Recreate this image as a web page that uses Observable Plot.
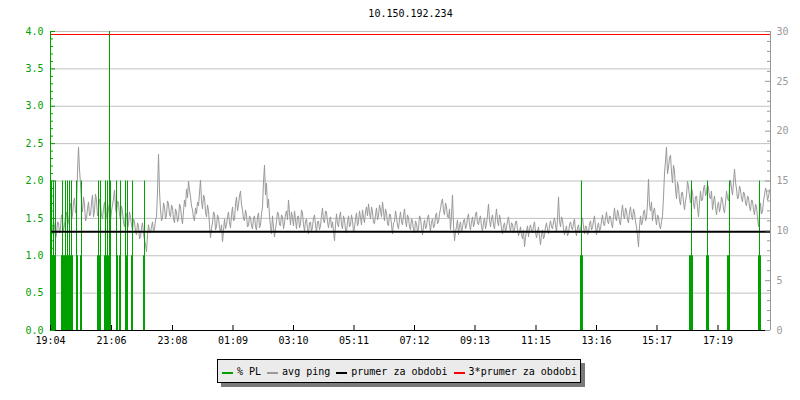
<!DOCTYPE html>
<html>
<head>
<meta charset="utf-8">
<script src="https://cdn.jsdelivr.net/npm/d3@7"></script>
<script src="https://cdn.jsdelivr.net/npm/@observablehq/plot@0.6"></script>
<style>
  body { margin: 0; background: #fff; font-family: "DejaVu Sans Mono", monospace; }
  #chart svg { display: block; }
  #legend {
    position: absolute; left: 217px; top: 359px; width: 364px; height: 24px;
    box-sizing: border-box; border: 1px solid #000; background: #ebebeb;
    box-shadow: 4px 4px 0 #7a7a7a; display: flex; align-items: center;
    font-size: 10px; padding: 0 0 0 4px; white-space: nowrap; color: #000;
  }
  .item { display: flex; align-items: center; margin-right: 6px; }
  .sw { width: 11px; height: 2px; margin-right: 4px; margin-top: 3px; }
</style>
</head>
<body>
<div id="chart"></div>
<div id="legend"></div>
<script>
// ---------------- data ----------------
const chartTitle = "10.150.192.234";
const spanMinutes = 1440;          // 24 h window starting 19:04
const pingStepMin = 2;             // one ping sample every 2 minutes

// avg ping (ms), right axis
const pingMs = [
  11.2, 10.4, 9.9, 11.0, 10.5, 9.2, 9.7, 10.9, 10.8, 9.8, 10.3, 11.6, 11.1, 10.0, 10.6, 11.4, 11.9, 10.5, 10.9, 12.0,
  12.8, 11.1, 11.6, 12.9, 13.3, 11.8, 12.2, 15.9, 18.4, 16.1, 14.8, 12.7, 11.9, 13.4, 12.6, 11.0, 11.3, 12.2, 12.9, 11.5,
  11.6, 12.8, 13.6, 11.4, 12.0, 13.7, 13.1, 11.5, 11.8, 13.2, 12.7, 11.6, 11.2, 12.2, 12.9, 11.0, 11.5, 12.8, 12.3, 11.3,
  11.0, 12.0, 12.6, 13.2, 14.1, 12.3, 11.7, 13.0, 12.8, 11.6, 11.1, 12.5, 11.9, 10.9, 10.4, 11.6, 11.8, 10.2, 10.7, 11.9,
  11.3, 10.6, 10.1, 11.2, 10.9, 9.9, 9.6, 10.8, 10.5, 9.2, 9.4, 10.3, 10.8, 9.7, 9.1, 8.6, 7.9, 9.6, 10.6, 9.9,
  9.8, 10.4, 10.9, 9.9, 10.2, 11.1, 11.4, 13.9, 17.7, 14.0, 12.1, 11.0, 11.3, 12.8, 12.4, 11.2, 11.6, 13.0, 12.7, 11.6,
  11.4, 12.6, 12.3, 11.2, 10.8, 12.2, 11.9, 10.9, 11.2, 12.7, 12.4, 11.3, 10.7, 12.0, 13.1, 12.4, 14.2, 13.3, 15.0, 14.1,
  13.4, 12.5, 12.1, 11.3, 11.0, 12.3, 11.7, 12.9, 12.5, 13.8, 15.1, 13.0, 12.2, 13.6, 13.3, 11.9, 11.4, 12.6, 12.0, 10.6,
  9.3, 10.2, 10.8, 11.9, 11.7, 10.1, 10.4, 11.6, 11.3, 10.3, 9.9, 10.6, 8.9, 10.0, 11.2, 10.2, 10.6, 11.4, 11.9, 10.8,
  10.3, 11.6, 12.4, 11.0, 11.1, 12.7, 13.4, 12.0, 12.6, 13.5, 14.0, 12.6, 12.1, 11.2, 11.0, 12.1, 11.6, 10.4, 10.5, 11.5,
  11.3, 10.5, 10.2, 11.3, 11.5, 10.4, 10.1, 11.4, 11.8, 10.3, 10.6, 11.7, 12.4, 14.9, 16.6, 13.6, 14.8, 12.3, 13.2, 11.5,
  10.4, 9.7, 11.5, 10.3, 9.4, 10.2, 10.9, 11.9, 11.7, 10.6, 10.5, 11.6, 11.4, 10.2, 10.8, 11.7, 12.0, 11.1, 13.1, 11.8,
  10.6, 11.9, 11.3, 10.5, 12.0, 11.1, 10.2, 11.4, 11.5, 10.3, 10.7, 12.1, 11.8, 10.6, 10.0, 11.0, 11.2, 10.2, 9.7, 10.8,
  10.9, 9.9, 10.4, 11.3, 11.6, 10.6, 9.9, 10.9, 11.0, 10.1, 10.5, 11.5, 12.3, 11.0, 10.8, 12.0, 11.9, 10.9, 10.3, 11.1,
  11.4, 10.3, 10.9, 10.0, 9.0, 10.6, 11.7, 10.7, 10.4, 11.4, 11.9, 10.6, 10.2, 11.5, 11.1, 10.1, 9.8, 10.9, 11.5, 10.4,
  10.6, 11.6, 11.0, 9.9, 10.3, 11.2, 11.8, 10.5, 10.9, 12.0, 11.3, 10.6, 12.1, 11.3, 10.8, 11.9, 12.4, 11.5, 12.7, 11.8,
  11.2, 12.4, 11.9, 10.8, 10.7, 11.6, 12.3, 11.1, 11.5, 12.6, 12.1, 11.4, 12.9, 12.0, 11.0, 12.2, 11.8, 10.7, 10.5, 11.7,
  11.6, 10.6, 9.7, 10.8, 10.9, 12.0, 11.4, 10.5, 10.2, 11.2, 11.9, 10.9, 10.6, 11.5, 12.2, 11.0, 10.4, 11.6, 11.3, 10.4,
  10.1, 11.2, 11.0, 10.1, 9.8, 11.0, 10.7, 9.9, 10.2, 11.5, 11.3, 10.3, 9.6, 10.5, 11.1, 10.2, 10.4, 11.3, 11.6, 10.7,
  10.0, 10.9, 11.2, 10.3, 10.5, 11.5, 11.8, 10.7, 10.9, 11.7, 12.2, 12.9, 13.2, 12.0, 11.6, 12.8, 12.4, 11.4, 11.3, 12.2,
  10.1, 11.5, 13.6, 10.6, 9.0, 9.9, 10.4, 11.1, 9.6, 10.5, 10.9, 9.9, 10.3, 11.0, 11.2, 10.2, 10.5, 11.3, 11.7, 10.6,
  10.1, 10.9, 11.4, 10.4, 10.8, 11.7, 11.9, 10.8, 10.6, 11.2, 11.5, 10.4, 10.0, 10.8, 11.3, 10.2, 10.7, 11.6, 12.7, 11.1,
  10.4, 11.2, 11.6, 10.6, 10.2, 11.3, 12.2, 11.0, 10.5, 11.6, 11.1, 10.2, 9.7, 10.5, 10.8, 9.9, 10.3, 11.0, 11.4, 10.5,
  9.9, 10.8, 10.7, 9.8, 10.1, 10.9, 11.0, 10.1, 9.5, 9.9, 10.4, 9.6, 9.2, 10.1, 8.4, 9.3, 10.0, 10.5, 9.4, 10.2,
  10.6, 10.0, 9.8, 10.5, 10.9, 9.9, 9.3, 9.9, 10.4, 9.4, 8.6, 9.6, 10.1, 9.2, 9.5, 10.4, 10.8, 10.1, 9.7, 10.5,
  11.0, 10.4, 10.2, 10.9, 11.3, 10.6, 9.9, 11.2, 13.4, 11.0, 10.4, 11.4, 11.1, 10.2, 9.6, 10.1, 10.5, 9.5, 9.8, 10.6,
  10.9, 10.3, 10.1, 10.8, 11.2, 10.0, 9.5, 10.3, 10.6, 9.8, 10.0, 10.9, 11.3, 10.4, 9.7, 10.5, 10.4, 9.6, 9.8, 10.7,
  11.0, 10.1, 10.3, 11.0, 11.5, 10.4, 9.6, 10.5, 10.8, 10.0, 10.2, 11.0, 11.6, 10.7, 10.5, 11.3, 11.9, 11.0, 10.7, 11.5,
  11.4, 10.7, 10.3, 11.4, 12.3, 11.3, 11.0, 12.1, 11.7, 10.9, 10.6, 11.8, 12.6, 11.6, 11.2, 12.3, 12.0, 11.1, 10.8, 11.9,
  12.4, 11.5, 11.1, 12.2, 11.8, 10.9, 10.4, 9.5, 8.4, 10.4, 11.5, 10.6, 10.9, 11.9, 12.1, 11.0, 11.3, 12.8, 15.2, 12.6,
  12.0, 12.9, 11.0, 12.0, 12.3, 11.3, 10.6, 11.6, 11.4, 10.5, 10.2, 10.9, 11.5, 13.4, 15.8, 17.0, 18.4, 15.7, 16.4, 17.3,
  17.6, 15.9, 14.8, 16.6, 16.0, 14.2, 13.2, 14.9, 14.4, 13.1, 12.6, 13.8, 13.9, 12.9, 12.1, 13.0, 13.6, 15.0, 14.4, 13.5,
  12.8, 14.3, 13.9, 12.7, 12.2, 13.4, 13.5, 12.3, 11.4, 12.8, 14.0, 13.0, 13.1, 14.2, 14.6, 13.5, 13.8, 14.7, 14.3, 13.4,
  13.2, 14.0, 12.1, 12.9, 13.5, 12.4, 11.6, 12.5, 12.9, 11.9, 12.4, 13.4, 13.1, 12.2, 11.8, 12.8, 14.0, 13.3, 13.0, 14.2,
  15.1, 14.3, 13.6, 14.8, 16.2, 14.9, 14.2, 13.2, 13.4, 14.5, 14.1, 13.3, 12.9, 13.9, 13.7, 12.8, 12.5, 13.5, 13.3, 12.4,
  12.0, 13.1, 13.0, 12.1, 11.6, 12.7, 12.4, 11.3, 10.4, 11.6, 12.8, 11.7, 11.9, 13.0, 13.6, 14.3, 14.0, 13.1, 13.4, 14.1
];

// packet loss (%), left axis
const plMinute = [2, 4, 6, 8, 10, 22, 24, 26, 28, 30, 32, 34, 36, 38, 40, 42, 44, 52, 54, 60, 62,
  94, 96, 98, 100, 108, 110, 112, 114, 116, 118, 120, 132, 134, 138, 140, 150, 152, 154, 162, 164,
  186, 188, 1060, 1062, 1064, 1278, 1280, 1282, 1284, 1312, 1314, 1316, 1354, 1356, 1358, 1416, 1418, 1420];
const plPct = [2, 1, 2, 1, 2, 1, 2, 1, 1, 2, 1, 2, 1, 2, 1, 2, 1, 2, 1, 1, 2,
  1, 2, 1, 2, 1, 2, 1, 2, 1, 4, 2, 2, 1, 1, 2, 2, 1, 2, 1, 2,
  1, 2, 1, 2, 1, 1, 1, 2, 1, 1, 2, 1, 1, 1, 2, 1, 2, 1];

const avgMs = 9.9;       // prumer za obdobi
const avg3Ms = 29.7;     // 3*prumer za obdobi

const xTickMinutes = [0, 122, 244, 365, 486, 607, 728, 849, 971, 1092, 1213, 1335];
const xTickLabels = ["19:04", "21:06", "23:08", "01:09", "03:10", "05:11", "07:12", "09:13", "11:15", "13:16", "15:17", "17:19"];
const leftTicks = [0, 0.5, 1, 1.5, 2, 2.5, 3, 3.5, 4];
const rightTicksMs = [0, 5, 10, 15, 20, 25, 30];

const legendItems = [
  {label: "% PL", color: "#00a000"},
  {label: "avg ping", color: "#999999"},
  {label: "prumer za obdobi", color: "#000000"},
  {label: "3*prumer za obdobi", color: "#ff0000"}
];

// ---------------- chart ----------------
const GREEN = "#00a000";
const GRAY = "#999999";
const pctMax = 4, msMax = 30;
const msToY = ms => ms * pctMax / msMax;

const pingData = pingMs.map((v, i) => ({t: i * pingStepMin, y: msToY(v)}));
const plData = plMinute.map((t, i) => ({t, v: plPct[i]}));
const labelByMinute = new Map(xTickMinutes.map((m, i) => [m, xTickLabels[i]]));

const W = 800, H = 352, mL = 50, mR = 30, mT = 31, mB = 22;
const pxPerMin = (W - mL - mR) / spanMinutes;
const pxPerY = (H - mT - mB) / pctMax;

const leftMinor = d3.range(0, 41).map(k => k / 10);
const rightMinor = d3.range(0, 31);

const chart = Plot.plot({
  width: W, height: H,
  marginLeft: mL, marginRight: mR, marginTop: mT, marginBottom: mB,
  style: {fontFamily: "DejaVu Sans Mono, monospace", fontSize: "10px", background: "#fff"},
  x: {domain: [0, spanMinutes]},
  y: {domain: [0, pctMax]},
  marks: [
    Plot.ruleY(leftTicks.filter(d => d > 0), {y: d => d, stroke: "#c0c0c0"}),
    Plot.line(pingData, {x: "t", y: "y", stroke: GRAY, strokeWidth: 1}),
    Plot.ruleX(plData, {x: "t", y1: 0, y2: "v", stroke: GREEN, strokeWidth: 1}),
    Plot.ruleY([msToY(avgMs)], {y: d => d, stroke: "#000", strokeWidth: 2}),
    Plot.ruleY([msToY(avg3Ms)], {y: d => d, stroke: "#ff0000", strokeWidth: 1}),
    // axis lines
    Plot.ruleX([0], {x: d => d, stroke: GREEN}),
    Plot.ruleX([spanMinutes], {x: d => d, stroke: GRAY}),
    Plot.ruleY([0], {y: d => d, stroke: "#000"}),
    // left ticks (inward)
    Plot.ruleY(leftMinor, {y: d => d, x1: 0, x2: d => (Math.round(d * 10) % 5 === 0 ? 5 : 3) / pxPerMin, stroke: GREEN}),
    // right ticks (inward)
    Plot.ruleY(rightMinor, {y: d => msToY(d), x1: d => spanMinutes - (d % 5 === 0 ? 5 : 3) / pxPerMin, x2: spanMinutes, stroke: GRAY}),
    // bottom ticks (inward)
    Plot.ruleX(xTickMinutes, {x: d => d, y1: 0, y2: 5 / pxPerY, stroke: "#000"}),
    Plot.axisY({anchor: "left", ticks: leftTicks, tickSize: 0, tickPadding: 7, tickFormat: d => d.toFixed(1), color: GREEN, label: null}),
    Plot.axisY({anchor: "right", ticks: rightTicksMs.map(msToY), tickSize: 0, tickPadding: 6, tickFormat: d => String(Math.round(d * msMax / pctMax)), color: GRAY, label: null}),
    Plot.axisX({ticks: xTickMinutes, tickSize: 0, tickPadding: 6, tickFormat: d => labelByMinute.get(d), color: "#000", label: null}),
    Plot.text([chartTitle], {text: d => d, frameAnchor: "top", dy: -22, fill: "#000"})
  ]
});
document.getElementById("chart").appendChild(chart);

const legend = document.getElementById("legend");
for (const it of legendItems) {
  const item = document.createElement("div");
  item.className = "item";
  const sw = document.createElement("span");
  sw.className = "sw";
  sw.style.background = it.color;
  const tx = document.createElement("span");
  tx.textContent = it.label;
  item.appendChild(sw);
  item.appendChild(tx);
  legend.appendChild(item);
}
</script>
</body>
</html>
